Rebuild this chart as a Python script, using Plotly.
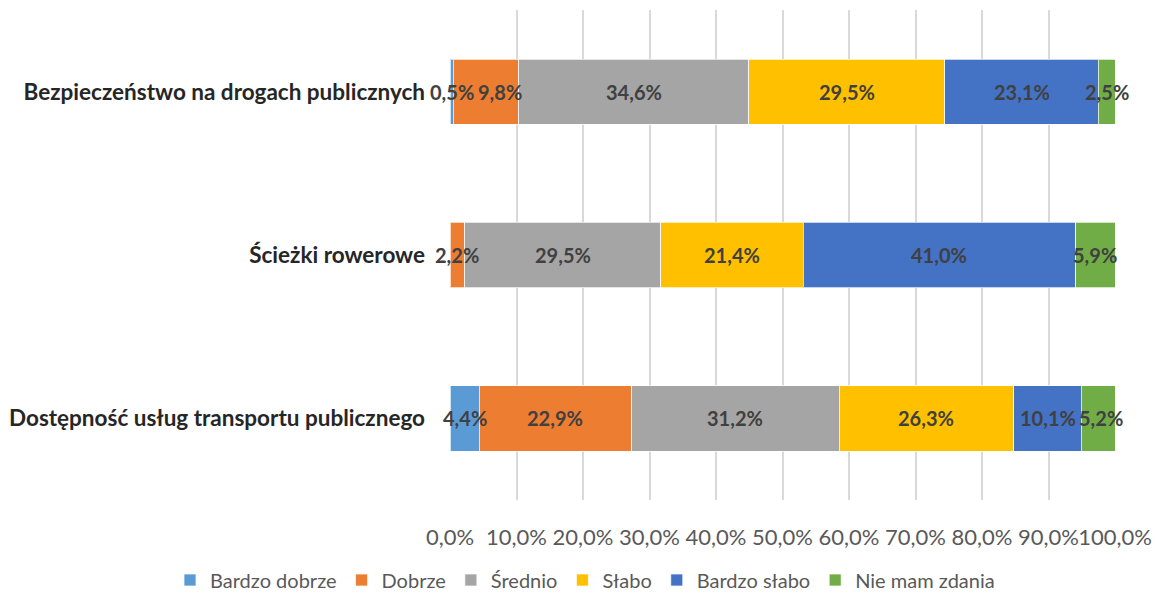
import plotly.graph_objects as go

categories = ["Dostępność usług transportu publicznego", "Ścieżki rowerowe",
              "Bezpieczeństwo na drogach publicznych"]
series_names = ["Bardzo dobrze", "Dobrze", "Średnio", "Słabo", "Bardzo słabo", "Nie mam zdania"]
bardzo_dobrze = [4.4, 0.0, 0.5]
dobrze = [22.9, 2.2, 9.8]
srednio = [31.2, 29.5, 34.6]
slabo = [26.3, 21.4, 29.5]
bardzo_slabo = [10.1, 41.0, 23.1]
nie_mam_zdania = [5.2, 5.9, 2.5]
colors = ["#5B9BD5", "#ED7D31", "#A5A5A5", "#FFC000", "#4472C4", "#70AD47"]
tick_vals = [0, 10, 20, 30, 40, 50, 60, 70, 80, 90, 100]
tick_text = ["0,0%", "10,0%", "20,0%", "30,0%", "40,0%", "50,0%", "60,0%", "70,0%", "80,0%", "90,0%", "100,0%"]

FONT = "Lato, 'Open Sans', sans-serif"
W, H = 1161, 596
ML, MR, MT, MB = 450, 46, 10, 96
LABEL_SIZE = 20

def fmt(v):
    return "" if v == 0 else f"{v:.1f}".replace(".", ",") + "%"

all_series = [bardzo_dobrze, dobrze, srednio, slabo, bardzo_slabo, nie_mam_zdania]

fig = go.Figure()
for name, vals, col in zip(series_names, all_series, colors):
    fig.add_trace(go.Bar(
        y=categories, x=vals, name=name, orientation="h",
        marker=dict(color=col, line=dict(color="rgba(255,255,255,0.7)", width=1)),
        width=0.4, hoverinfo="x+name",
    ))

# data labels centred in each segment; nudge right when they would collide (like Excel)
px_per_unit = (W - ML - MR) / 100.0
char_w = 0.55 * LABEL_SIZE
gap = 4
annotations = []
for ci, cat in enumerate(categories):
    start = 0.0
    prev_right = -1e9
    for vals in all_series:
        v = vals[ci]
        if v > 0:
            t = fmt(v)
            mid = start + v / 2
            wpx = len(t) * char_w
            cx = mid * px_per_unit
            shift = 0.0
            if cx - wpx / 2 < prev_right + gap:
                shift = prev_right + gap - (cx - wpx / 2)
            prev_right = cx + shift + wpx / 2
            annotations.append(dict(
                x=mid, y=cat, text=t, showarrow=False, xshift=shift,
                xanchor="center", yanchor="middle",
                font=dict(family=FONT, size=LABEL_SIZE, color="#404040", weight="bold"),
            ))
        start += v

plot_h = H - MT - MB
plot_w = W - ML - MR

fig.update_layout(
    barmode="stack",
    width=W, height=H,
    margin=dict(l=ML, r=MR, t=MT, b=MB, autoexpand=False),
    plot_bgcolor="white", paper_bgcolor="white",
    font=dict(family=FONT),
    annotations=annotations,
    xaxis=dict(range=[0, 100], tickvals=tick_vals, ticktext=tick_text, tickangle=0,
               showgrid=True, gridcolor="#D9D9D9", gridwidth=2, zeroline=False,
               tickfont=dict(family=FONT, size=22, color="#595959"),
               ticks="", showline=False, ticklabelstandoff=22, automargin=False),
    yaxis=dict(tickfont=dict(family=FONT, size=22.5, color="#262626", weight="bold"),
               ticks="", showline=False, range=[-0.5, 2.5], ticklabelstandoff=24,
               automargin=False),
    legend=dict(orientation="h",
                x=(170 - ML) / plot_w, xanchor="left",
                y=-(580 - (MT + plot_h)) / plot_h, yanchor="middle",
                font=dict(family=FONT, size=20, color="#595959"),
                traceorder="normal", itemwidth=30),
)

fig.write_html("out.html", config={"displayModeBar": False})

with open("out.html", encoding="utf-8") as f:
    html = f.read()
html = html.replace("<body>", '<body style="margin:0;padding:0">', 1)
with open("out.html", "w", encoding="utf-8") as f:
    f.write(html)
